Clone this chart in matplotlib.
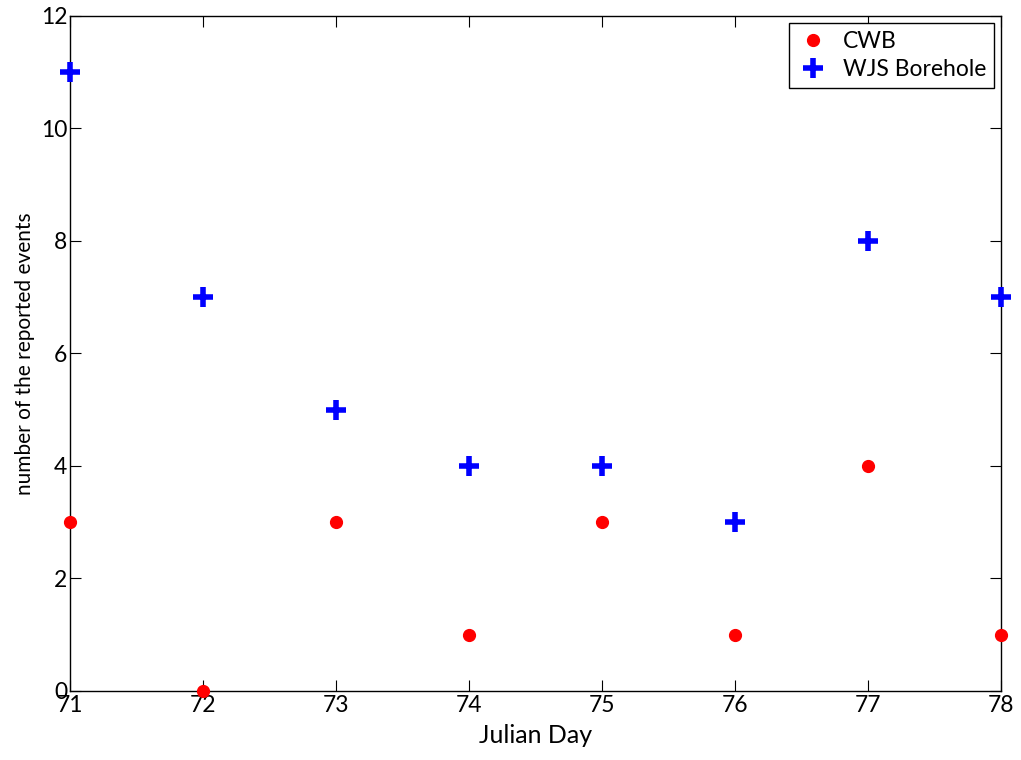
import numpy as np
import matplotlib.pyplot as plt

plt.rcParams['font.family'] = ['Lato', 'DejaVu Sans']

days = [71, 72, 73, 74, 75, 76, 77, 78]
cwb = [3, 0, 3, 1, 3, 1, 4, 1]
wjs = [11, 7, 5, 4, 4, 3, 8, 7]

fig = plt.figure(figsize=(10.21, 7.6), dpi=100)
ax = fig.add_axes([0.0686, 0.0908, 0.9118, 0.8882])

ax.plot(days, cwb, 'o', color='red', markersize=8.5, label='CWB', clip_on=False, zorder=3)
ax.plot(days, wjs, '+', color='blue', markersize=15, markeredgewidth=4,
        label='WJS Borehole', clip_on=False, zorder=3)

ax.set_xlim(71, 78)
ax.set_ylim(0, 12)
ax.set_xticks(days)
ax.set_yticks(np.arange(0, 13, 2))
ax.tick_params(direction='in', top=True, right=True, labelsize=16.5, length=8, width=0.8)
ax.tick_params(axis='x', pad=3)
ax.tick_params(axis='y', pad=2)
for s in ax.spines.values():
    s.set_linewidth(1.0)

ax.set_xlabel('Julian Day', fontsize=18, labelpad=6)
ax.set_ylabel('number of the reported events', fontsize=15, labelpad=4)

leg = ax.legend(loc='upper right', fontsize=16.5, fancybox=False, edgecolor='black',
                framealpha=1, borderaxespad=0.3, handletextpad=0.6, handlelength=1.4,
                borderpad=0.35, labelspacing=0.3)
leg.get_frame().set_linewidth(1.0)

fig.savefig('out.png', dpi=100)
